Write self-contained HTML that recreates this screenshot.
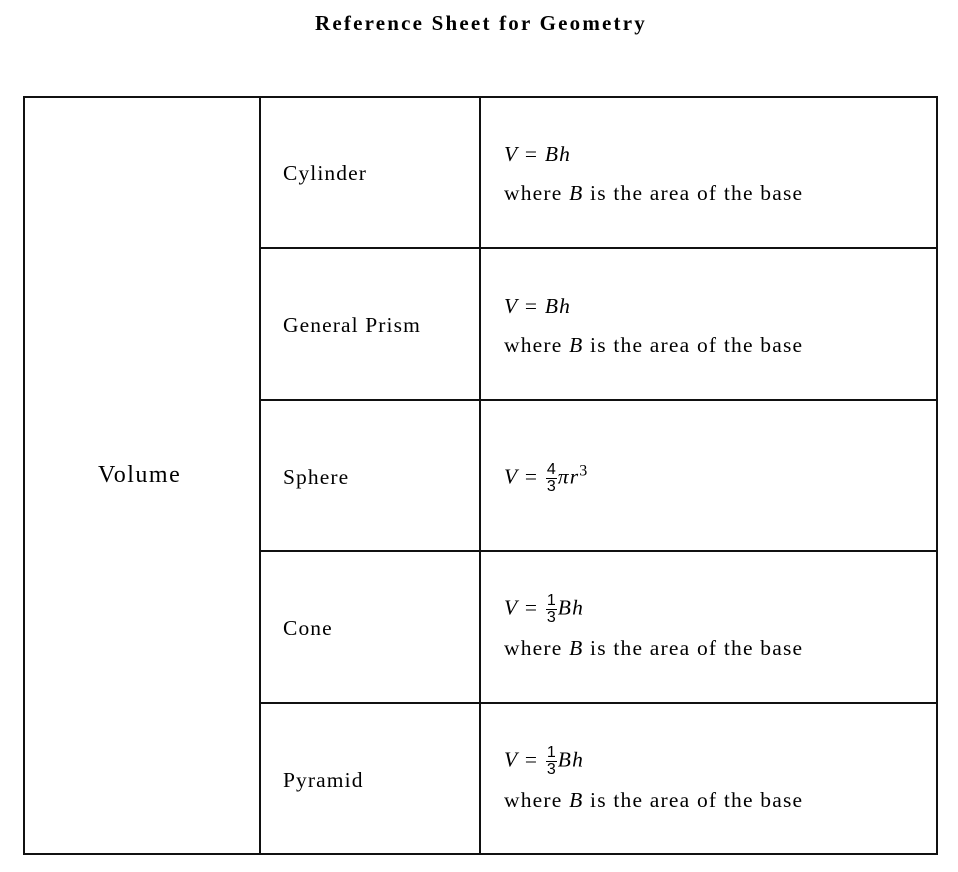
<!DOCTYPE html>
<html><head><style>
body{margin:0;width:958px;height:872px;background:#fff;position:relative;font-family:"Liberation Serif",serif;color:#000;overflow:hidden}
.t{position:absolute;white-space:nowrap}
.h{position:absolute;background:#111;height:2px}
.v{position:absolute;background:#111;width:2px}
.lbl{font-size:21.5px;letter-spacing:1.1px}
.f{font-size:21.5px;letter-spacing:1.2px}
.fr{display:inline-block;vertical-align:middle;text-align:center;font-family:"Liberation Sans",sans-serif;font-size:16px;line-height:16px;margin:0 1px;letter-spacing:0}
.fr span{display:block}
.fr .n{border-bottom:1px solid #000;padding:0 1px}
</style></head><body>
<div class="t" style="left:0;width:962px;text-align:center;top:11px;font-size:21px;font-weight:bold;letter-spacing:2.2px">Reference Sheet for Geometry</div>
<div class="h" style="left:23px;top:96px;width:915px"></div>
<div class="h" style="left:23px;top:853px;width:915px"></div>
<div class="v" style="left:23px;top:96px;height:759px"></div>
<div class="v" style="left:936px;top:96px;height:759px"></div>
<div class="v" style="left:259px;top:96px;height:759px"></div>
<div class="v" style="left:479px;top:96px;height:759px"></div>
<div class="h" style="left:259px;top:247px;width:679px"></div>
<div class="h" style="left:259px;top:399px;width:679px"></div>
<div class="h" style="left:259px;top:550px;width:679px"></div>
<div class="h" style="left:259px;top:702px;width:679px"></div>
<div class="t" style="left:98px;top:462px;font-size:24px;letter-spacing:1.5px">Volume</div>
<div class="t lbl" style="left:283px;top:161px">Cylinder</div>
<div class="t lbl" style="left:283px;top:313px">General Prism</div>
<div class="t lbl" style="left:283px;top:465px">Sphere</div>
<div class="t lbl" style="left:283px;top:616px">Cone</div>
<div class="t lbl" style="left:283px;top:768px">Pyramid</div>
<div class="t f" style="left:504px;top:142px"><i>V</i>&nbsp;=&nbsp;<i>Bh</i></div>
<div class="t f" style="left:504px;top:181px">where <i>B</i> is the area of the base</div>
<div class="t f" style="left:504px;top:294px"><i>V</i>&nbsp;=&nbsp;<i>Bh</i></div>
<div class="t f" style="left:504px;top:333px">where <i>B</i> is the area of the base</div>
<div class="t f" style="left:504px;top:462px"><i>V</i>&nbsp;=&nbsp;<span class="fr"><span class="n">4</span><span>3</span></span><i>πr</i><sup style="font-size:16px">3</sup></div>
<div class="t f" style="left:504px;top:593px"><i>V</i>&nbsp;=&nbsp;<span class="fr"><span class="n">1</span><span>3</span></span><i>Bh</i></div>
<div class="t f" style="left:504px;top:636px">where <i>B</i> is the area of the base</div>
<div class="t f" style="left:504px;top:745px"><i>V</i>&nbsp;=&nbsp;<span class="fr"><span class="n">1</span><span>3</span></span><i>Bh</i></div>
<div class="t f" style="left:504px;top:788px">where <i>B</i> is the area of the base</div>
</body></html>
